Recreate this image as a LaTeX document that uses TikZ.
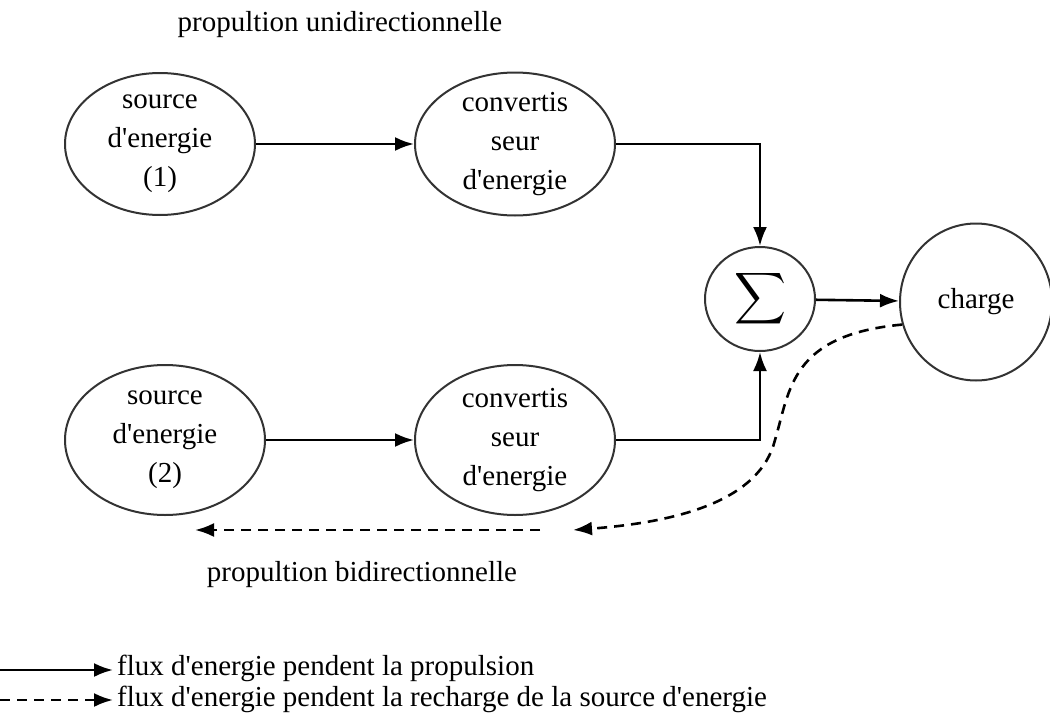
\documentclass[tikz,border=0pt]{standalone}
\usepackage{fontspec}
\setmainfont{Liberation Serif}
\usetikzlibrary{arrows.meta,shapes.geometric}
\newcommand{\ap}{\textquotesingle}

\begin{document}
\begin{tikzpicture}[x=1pt, y=-1pt,
    font=\fontsize{29}{39}\selectfont,
    blk/.style={draw=black!80, line width=2pt, ellipse, align=center,
      inner xsep=0pt, inner ysep=-6pt},
    flow/.style={-{Latex[length=19pt,width=14pt]}, line width=2.6pt},
    back/.style={flow, dash pattern=on 10pt off 7pt}]
  \useasboundingbox (0,0) rectangle (1050,723);

  \node (uni) at (340,25) {propultion unidirectionnelle};

  \node [blk, minimum width=190, minimum height=142] (s1) at (160,144) {source\\d\ap energie\\(1)};
  \node [blk, minimum width=200, minimum height=143] (c1) at (515,144) {convertis\\seur\\d\ap energie};
  \draw [flow] (s1) to (c1);

  \node [blk, minimum width=200, minimum height=150] (s2) at (165,440) {source\\d\ap energie\\(2)};
  \node [blk, minimum width=200, minimum height=150] (c2) at (515,440) {convertis\\seur\\d\ap energie};
  \draw [flow] (s2) to (c2);

  \node [blk, minimum width=110, minimum height=104] (sum) at (760,299) {\scalebox{3.6}{$\displaystyle\sum$}};
  \node [blk, minimum width=152, minimum height=157] (chg) at (976,302) {charge};

  \draw [flow] (c1.east) -| (sum.north);
  \draw [flow] (c2.east) -| (sum.south);
  \draw [flow] (sum) to (chg);

  % recharge
  \coordinate (r1) at (573,530);
  \coordinate (r2) at (540,530);
  \coordinate (r3) at (195,530);
  \draw [back] (chg.197) .. controls (790,335) and (790,390) .. (775,440)
    .. controls (760,500) and (680,522) .. (r1);
  \draw [back] (r2) to (r3);

  \node (bi) at (362,575) {propultion bidirectionnelle};

  % legende
  \coordinate (l1a) at (0,670);
  \coordinate (l1b) at (113,670);
  \coordinate (l2a) at (0,700);
  \coordinate (l2b) at (113,700);
  \draw [flow] (l1a) to (l1b);
  \draw [back] (l2a) to (l2b);
  \node [anchor=west, inner sep=0pt] (t1) at (117,668) {flux d\ap energie pendent la propulsion};
  \node [anchor=west, inner sep=0pt] (t2) at (117,699) {flux d\ap energie pendent la recharge de la source d\ap energie};
\end{tikzpicture}
\end{document}
